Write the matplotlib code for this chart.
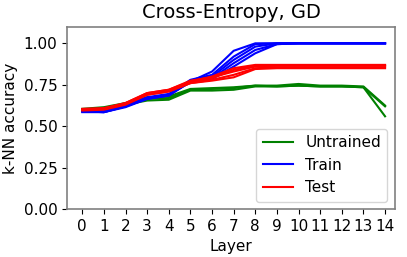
import numpy as np
import matplotlib
matplotlib.use("Agg")
import matplotlib.pyplot as plt

layers = list(range(15))

# k-NN accuracy per layer, one list per run
untrained_runs = [
    [0.605, 0.615, 0.64, 0.675, 0.68, 0.725, 0.73, 0.735, 0.745, 0.745, 0.755, 0.745, 0.745, 0.74, 0.625],
    [0.600, 0.610, 0.635, 0.665, 0.67, 0.720, 0.725, 0.730, 0.745, 0.740, 0.745, 0.740, 0.740, 0.735, 0.560],
    [0.600, 0.610, 0.630, 0.655, 0.66, 0.715, 0.715, 0.720, 0.740, 0.740, 0.745, 0.740, 0.740, 0.735, 0.620],
]
train_runs = [
    [0.590, 0.585, 0.615, 0.665, 0.685, 0.770, 0.830, 0.955, 1.000, 1.000, 1.0, 1.0, 1.0, 1.0, 1.0],
    [0.585, 0.585, 0.620, 0.670, 0.690, 0.780, 0.810, 0.920, 0.995, 1.000, 1.0, 1.0, 1.0, 1.0, 1.0],
    [0.590, 0.590, 0.625, 0.675, 0.695, 0.775, 0.800, 0.900, 0.980, 1.000, 1.0, 1.0, 1.0, 1.0, 1.0],
    [0.590, 0.585, 0.620, 0.670, 0.690, 0.765, 0.790, 0.880, 0.960, 0.995, 1.0, 1.0, 1.0, 1.0, 1.0],
    [0.590, 0.590, 0.620, 0.665, 0.685, 0.770, 0.785, 0.860, 0.940, 0.995, 1.0, 1.0, 1.0, 1.0, 1.0],
]
test_runs = [
    [0.600, 0.605, 0.640, 0.700, 0.720, 0.770, 0.800, 0.850, 0.870, 0.870, 0.870, 0.870, 0.870, 0.870, 0.870],
    [0.600, 0.605, 0.635, 0.695, 0.715, 0.765, 0.790, 0.840, 0.865, 0.865, 0.865, 0.865, 0.865, 0.865, 0.865],
    [0.605, 0.610, 0.640, 0.700, 0.720, 0.775, 0.795, 0.830, 0.860, 0.865, 0.865, 0.865, 0.865, 0.865, 0.865],
    [0.600, 0.605, 0.635, 0.690, 0.710, 0.760, 0.780, 0.810, 0.850, 0.855, 0.855, 0.855, 0.855, 0.855, 0.855],
    [0.595, 0.600, 0.630, 0.690, 0.710, 0.760, 0.775, 0.795, 0.845, 0.850, 0.850, 0.850, 0.850, 0.850, 0.850],
]

fig = plt.figure(figsize=(4.07, 2.57), dpi=100)
ax = fig.add_axes([0.165, 0.186, 0.805, 0.71])

for i, run in enumerate(untrained_runs):
    ax.plot(layers, run, color='green', label='Untrained' if i == 0 else None)
for i, run in enumerate(train_runs):
    ax.plot(layers, run, color='blue', label='Train' if i == 0 else None)
for i, run in enumerate(test_runs):
    ax.plot(layers, run, color='red', label='Test' if i == 0 else None)

ax.set_xlim(-0.7, 14.45)
ax.set_ylim(0, 1.1)
ax.set_xticks(layers)
ax.set_yticks([0, 0.25, 0.5, 0.75, 1.0])
ax.tick_params(labelsize=11)
for spine in ax.spines.values():
    spine.set_color('#808080')
    spine.set_linewidth(1.2)
ax.set_xlabel('Layer', fontsize=11)
ax.set_ylabel('k-NN accuracy', fontsize=11)
ax.set_title('Cross-Entropy, GD', fontsize=14)
ax.legend(loc='lower right', fontsize=11)

fig.savefig('out.png', dpi=100)
